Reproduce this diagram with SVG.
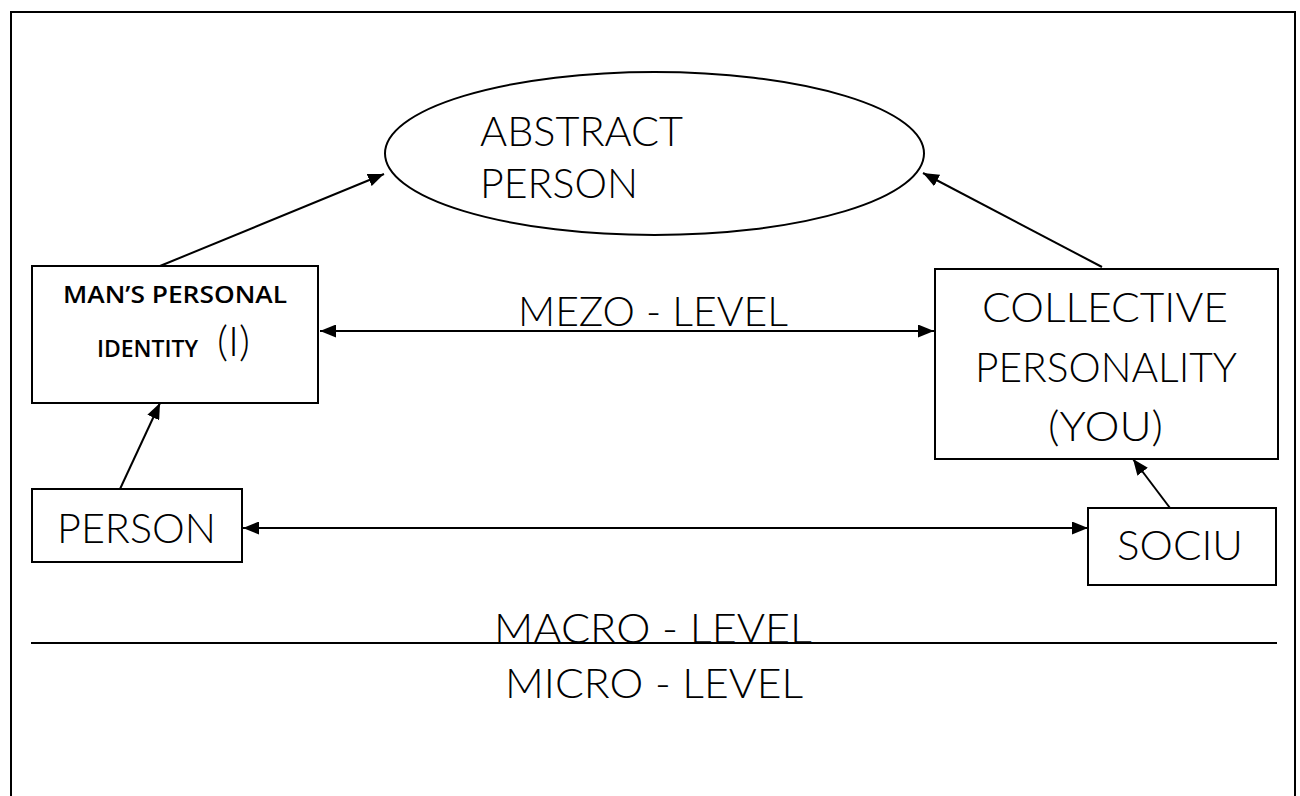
<svg xmlns="http://www.w3.org/2000/svg" width="1300" height="796" viewBox="0 0 1300 796">
<defs>
<style>
.box{fill:#fff;stroke:#000;stroke-width:2}
.ln{fill:none;stroke:#000;stroke-width:2}
.t{font-family:"Lato","Liberation Sans",sans-serif;font-weight:300;font-size:41px;fill:#000}
.b{font-family:"Open Sans","Liberation Sans",sans-serif;font-weight:600;font-size:23px;fill:#000}
</style>
<marker id="ah" viewBox="0 0 16 13" refX="16" refY="6.5" markerWidth="16" markerHeight="13" markerUnits="userSpaceOnUse" orient="auto-start-reverse">
<path d="M0,0 L16,6.5 L0,13 Z" fill="#000"/>
</marker>
</defs>
<rect width="1300" height="796" fill="#fff"/>
<path d="M11,800 L11,12 L1295,12 L1295,800" class="ln"/>
<line x1="31" y1="643" x2="1277" y2="643" class="ln"/>
<g id="abstract-person">
<ellipse cx="654.5" cy="153.5" rx="269.5" ry="81.5" class="box"/>
<text class="t" x="480" y="146" textLength="203" lengthAdjust="spacingAndGlyphs">ABSTRACT</text>
<text class="t" x="480" y="198" textLength="158" lengthAdjust="spacingAndGlyphs">PERSON</text>
</g>
<g id="personal-identity">
<rect x="32" y="266" width="286" height="137" class="box"/>
<text class="b" x="63" y="303" textLength="224" lengthAdjust="spacingAndGlyphs">MAN’S PERSONAL</text>
<text class="b" x="97" y="357" textLength="101" lengthAdjust="spacingAndGlyphs">IDENTITY</text>
<text class="t" x="217" y="356" textLength="33" lengthAdjust="spacingAndGlyphs">(I)</text>
</g>
<g id="collective-personality">
<rect x="935" y="269" width="343" height="190" class="box"/>
<text class="t" x="982" y="322" textLength="246" lengthAdjust="spacingAndGlyphs">COLLECTIVE</text>
<text class="t" x="975" y="382" textLength="262" lengthAdjust="spacingAndGlyphs">PERSONALITY</text>
<text class="t" x="1048" y="441" textLength="115" lengthAdjust="spacingAndGlyphs">(YOU)</text>
</g>
<g id="person">
<rect x="32" y="489" width="210" height="73" class="box"/>
<text class="t" x="57" y="543" textLength="159" lengthAdjust="spacingAndGlyphs">PERSON</text>
</g>
<g id="sociu">
<rect x="1088" y="508" width="188" height="77" class="box"/>
<text class="t" x="1117" y="560" textLength="126" lengthAdjust="spacingAndGlyphs">SOCIU</text>
</g>
<g id="labels">
<text class="t" x="518" y="326" textLength="270" lengthAdjust="spacingAndGlyphs">MEZO - LEVEL</text>
<text class="t" x="494" y="643" textLength="318" lengthAdjust="spacingAndGlyphs">MACRO - LEVEL</text>
<text class="t" x="505" y="698" textLength="298" lengthAdjust="spacingAndGlyphs">MICRO - LEVEL</text>
</g>
<g id="connectors">
<line x1="160" y1="266" x2="384" y2="174" class="ln" marker-end="url(#ah)"/>
<line x1="1102" y1="267" x2="923" y2="173" class="ln" marker-end="url(#ah)"/>
<line x1="120" y1="489" x2="160" y2="403" class="ln" marker-end="url(#ah)"/>
<line x1="1170" y1="508" x2="1133" y2="459" class="ln" marker-end="url(#ah)"/>
<line x1="320" y1="331" x2="934" y2="331" class="ln" marker-start="url(#ah)" marker-end="url(#ah)"/>
<line x1="243" y1="528" x2="1088" y2="528" class="ln" marker-start="url(#ah)" marker-end="url(#ah)"/>
</g>
</svg>
